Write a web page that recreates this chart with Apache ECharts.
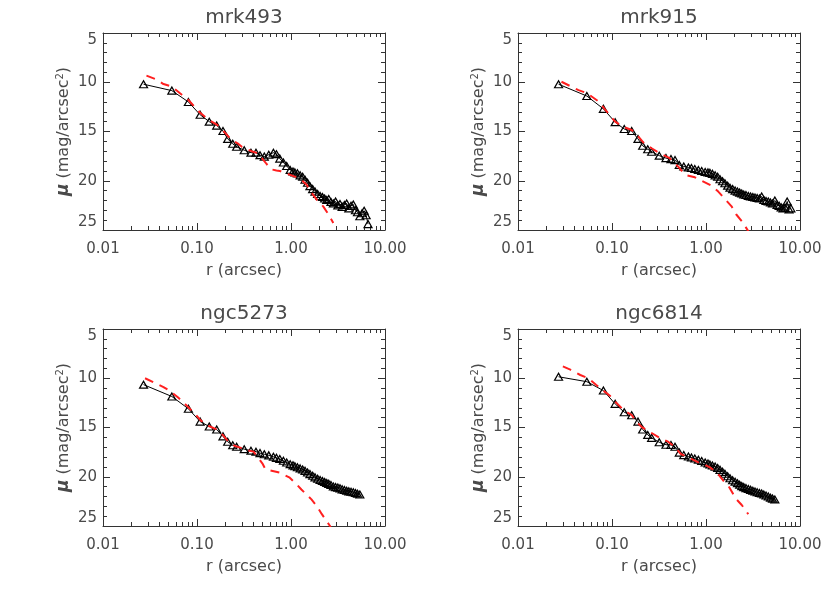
<!DOCTYPE html>
<html>
<head>
<meta charset="utf-8">
<title>Surface brightness profiles</title>
<script src="https://cdn.jsdelivr.net/npm/echarts@6/dist/echarts.min.js"></script>
<style>
    html, body { margin: 0; padding: 0; background: #fff; }
    #chart { width: 830px; height: 593px; }
</style>
</head>
<body>
<div id="chart"></div>
<script>
// radii of the isophotes (arcsec), shared by the four observed profiles
const radius = [0.027, 0.054, 0.081, 0.108, 0.135, 0.162, 0.189, 0.212, 0.240, 0.264,
    0.318, 0.375, 0.424, 0.468, 0.52, 0.58, 0.65, 0.70, 0.76, 0.83,
    0.90, 0.98, 1.05, 1.10, 1.17, 1.25, 1.33, 1.41, 1.50, 1.59,
    1.70, 1.80, 1.92, 2.04, 2.16, 2.28, 2.40, 2.52, 2.66, 2.82,
    2.98, 3.15, 3.32, 3.50, 3.70, 3.91, 4.12, 4.35, 4.60, 4.85,
    5.10, 5.40, 5.70, 6.00, 6.30, 6.60, 6.95, 7.30, 7.65, 8.00];

const galaxyNames = ['mrk493', 'mrk915', 'ngc5273', 'ngc6814'];

// observed surface brightness (mag/arcsec^2), one value per radius until the profile ends
const mrk493Mu = [10.2, 10.85, 12.0, 13.3, 14.0, 14.4, 14.95, 15.75, 16.25, 16.55,
    16.9, 17.15, 17.15, 17.4, 17.55, 17.35, 17.15, 17.3, 17.75, 18.15,
    18.5, 18.9, 19.05, 19.15, 19.25, 19.45, 19.6, 19.9, 20.2, 20.55,
    20.85, 21.1, 21.35, 21.55, 21.65, 21.8, 21.95, 21.85, 22.15, 22.3,
    22.1, 22.5, 22.35, 22.65, 22.45, 22.3, 22.8, 22.55, 22.4, 23.0,
    23.2, 23.6, 23.3, 23.05, 23.5, 24.4];
const mrk915Mu = [10.2, 11.4, 12.7, 14.05, 14.75, 14.95, 15.75, 16.45, 16.8, 17.05,
    17.45, 17.7, 17.8, 17.9, 18.4, 18.55, 18.65, 18.7, 18.8, 18.9,
    19.0, 19.1, 19.15, 19.2, 19.3, 19.45, 19.6, 19.85, 20.05, 20.25,
    20.5, 20.7, 20.85, 21.0, 21.1, 21.2, 21.3, 21.4, 21.45, 21.55,
    21.6, 21.65, 21.7, 21.75, 21.8, 21.6, 21.95, 22.05, 22.1, 22.2,
    22.3, 22.0, 22.45, 22.55, 22.7, 22.8, 22.75, 22.1, 22.9, 22.8];
const ngc5273Mu = [10.65, 11.85, 13.1, 14.4, 14.9, 15.2, 15.9, 16.45, 16.8, 16.95,
    17.2, 17.35, 17.45, 17.6, 17.72, 17.83, 17.97, 18.08, 18.2, 18.38,
    18.55, 18.72, 18.84, 18.93, 19.04, 19.15, 19.26, 19.4, 19.57, 19.73,
    19.9, 20.06, 20.2, 20.33, 20.42, 20.53, 20.64, 20.72, 20.84, 20.98,
    21.05, 21.1, 21.18, 21.28, 21.35, 21.42, 21.48, 21.52, 21.58, 21.65,
    21.72, 21.8];
const ngc6814Mu = [9.85, 10.35, 11.25, 12.6, 13.45, 13.75, 14.4, 15.2, 15.75, 16.05,
    16.5, 16.75, 16.78, 16.95, 17.55, 17.8, 17.95, 18.05, 18.15, 18.27,
    18.4, 18.55, 18.65, 18.75, 18.85, 18.97, 19.1, 19.3, 19.5, 19.7,
    19.95, 20.15, 20.35, 20.5, 20.65, 20.8, 20.95, 21.05, 21.15, 21.25,
    21.33, 21.42, 21.5, 21.58, 21.64, 21.7, 21.8, 21.9, 22.0, 22.12,
    22.22, 22.3];

// model profiles (red dashed)
const mrk493ModelR = [0.029, 0.036, 0.044, 0.054, 0.066, 0.081, 0.108, 0.135, 0.162, 0.19,
    0.215, 0.24, 0.27, 0.30, 0.338, 0.38, 0.41, 0.45, 0.50, 0.55,
    0.62, 0.70, 0.76, 0.85, 0.98, 1.15, 1.30, 1.47, 1.59, 1.87,
    2.2, 2.5, 2.82];
const mrk493ModelMu = [9.33, 9.67, 10.18, 10.45, 11.12, 11.8, 13.1, 13.85, 14.3, 14.9,
    15.5, 15.9, 16.2, 16.55, 16.8, 17.0, 17.1, 17.25, 17.8, 18.3,
    18.85, 18.95, 19.0, 19.2, 19.4, 19.65, 19.95, 20.4, 21.0, 21.9,
    22.6, 23.4, 24.3];
const mrk915ModelR = [0.029, 0.044, 0.054, 0.072, 0.085, 0.108, 0.13, 0.162, 0.19, 0.215,
    0.264, 0.32, 0.41, 0.51, 0.6, 0.76, 0.9, 1.15, 1.35, 1.59,
    1.87, 2.09, 2.45, 2.85];
const mrk915ModelMu = [9.95, 10.8, 11.1, 11.95, 12.8, 14.0, 14.5, 14.85, 15.5, 16.1,
    16.7, 17.2, 17.7, 18.6, 19.4, 19.65, 20.0, 20.5, 21.1, 21.85,
    22.6, 23.4, 24.2, 25.2];
const ngc5273ModelR = [0.028, 0.044, 0.051, 0.063, 0.078, 0.095, 0.11, 0.13, 0.162, 0.19,
    0.21, 0.25, 0.30, 0.34, 0.40, 0.50, 0.535, 0.77, 0.97, 1.14,
    1.29, 1.65, 1.87, 2.13, 2.6, 2.75];
const ngc5273ModelMu = [10.0, 10.9, 11.25, 11.95, 12.8, 13.6, 14.3, 14.8, 15.2, 15.8,
    16.3, 16.85, 17.1, 17.3, 17.45, 18.7, 19.25, 19.6, 20.1, 20.75,
    21.3, 22.3, 22.95, 23.8, 25.0, 25.5];
const ngc6814ModelR = [0.030, 0.036, 0.046, 0.056, 0.068, 0.081, 0.095, 0.108, 0.133, 0.162,
    0.184, 0.21, 0.264, 0.315, 0.395, 0.46, 0.54, 0.65, 0.83, 0.98,
    1.1, 1.3, 1.53, 1.73, 2.09, 2.4, 2.82];
const ngc6814ModelMu = [8.8, 9.13, 9.67, 10.0, 10.69, 11.26, 11.77, 12.38, 13.23, 13.73,
    14.48, 14.99, 15.56, 16.0, 16.44, 16.91, 17.69, 18.03, 18.54, 18.81,
    19.05, 19.55, 20.4, 20.9, 22.26, 22.87, 23.8];

// x tick labels, one per decade (0.01 .. 10)
const xTickLabels = ['0.01', '0.10', '1.00', '10.00'];

const observed = [mrk493Mu, mrk915Mu, ngc5273Mu, ngc6814Mu];
const modelR = [mrk493ModelR, mrk915ModelR, ngc5273ModelR, ngc6814ModelR];
const modelMu = [mrk493ModelMu, mrk915ModelMu, ngc5273ModelMu, ngc6814ModelMu];

// panel boxes: left, top (px)
const boxes = [[103, 33], [518, 33], [103, 329], [518, 329]];
const boxW = 282;
const boxH = 197;

const textColor = '#4a4a4a';
const frameColor = '#333';
const font = 'DejaVu Sans';

// x axis works in log10(r); minor ticks at 2..9 of every decade
const minorTicks = [];
[-2, -1, 0].forEach(d => {
    for (let k = 2; k <= 9; k++) minorTicks.push(d + Math.log10(k));
});

function toPoints(rs, mus) {
    return mus.map((m, i) => [Math.log10(rs[i]), m]);
}

const chart = echarts.init(document.getElementById('chart'));

const grids = [];
const xAxes = [];
const yAxes = [];
const titles = [];
const series = [];

boxes.forEach((b, i) => {
    grids.push({ left: b[0], top: b[1], width: boxW, height: boxH, containLabel: false, outerBoundsMode: 'none' });

    titles.push({
        text: galaxyNames[i],
        left: b[0] + boxW / 2,
        top: b[1] - 25,
        textAlign: 'center',
        padding: 0,
        textStyle: { fontFamily: font, fontSize: 20, fontWeight: 'normal', color: textColor }
    });

    const lineStyle = { color: frameColor, width: 1 };
    const xBase = {
        type: 'value', gridIndex: i, min: -2, max: 1, interval: 1,
        splitLine: { show: false },
        axisLine: { show: true, onZero: false, lineStyle: lineStyle }
    };
    xAxes.push(Object.assign({}, xBase, {
        position: 'bottom',
        axisTick: { show: true, inside: true, length: 7, lineStyle: lineStyle },
        axisLabel: {
            margin: 12, fontFamily: font, fontSize: 15, color: textColor,
            formatter: v => xTickLabels[Math.round(v) + 2]
        },
        name: 'r (arcsec)', nameLocation: 'middle', nameGap: 33,
        nameTextStyle: { fontFamily: font, fontSize: 16, color: textColor }
    }));
    xAxes.push(Object.assign({}, xBase, {
        position: 'bottom',
        axisLine: { show: false, onZero: false },
        axisLabel: { show: false },
        axisTick: { show: true, inside: true, length: 4, customValues: minorTicks, lineStyle: lineStyle }
    }));
    xAxes.push(Object.assign({}, xBase, {
        position: 'top',
        axisLabel: { show: false },
        axisTick: { show: true, inside: true, length: 7, lineStyle: lineStyle }
    }));
    xAxes.push(Object.assign({}, xBase, {
        position: 'top',
        axisLine: { show: false, onZero: false },
        axisLabel: { show: false },
        axisTick: { show: true, inside: true, length: 4, customValues: minorTicks, lineStyle: lineStyle }
    }));

    const yBase = {
        type: 'value', gridIndex: i, min: 5, max: 25, interval: 5, inverse: true,
        splitLine: { show: false },
        axisLine: { show: true, onZero: false, lineStyle: lineStyle },
        axisTick: { show: true, inside: true, length: 7, lineStyle: lineStyle },
        minorTick: { show: true, splitNumber: 5, length: 4, lineStyle: lineStyle }
    };
    yAxes.push(Object.assign({}, yBase, {
        position: 'left',
        axisLabel: {
            margin: 6, fontFamily: font, fontSize: 15, color: textColor,
            verticalAlignMinLabel: 'top', verticalAlignMaxLabel: 'bottom'
        },
        name: '{mu|μ} (mag/arcsec{sup|2})',
        nameLocation: 'middle', nameRotate: 90, nameGap: 30,
        nameTextStyle: {
            fontFamily: font, fontSize: 16, color: textColor,
            rich: {
                mu: { fontFamily: font, fontSize: 17, fontWeight: 'bold', fontStyle: 'italic', color: textColor },
                sup: { fontFamily: font, fontSize: 10, color: textColor, verticalAlign: 'top', padding: [0, 0, 8, 0] }
            }
        }
    }));
    yAxes.push(Object.assign({}, yBase, {
        position: 'right',
        axisLabel: { show: false }
    }));

    // observed profile: open triangles joined by a thin line
    series.push({
        type: 'line',
        xAxisIndex: i * 4,
        yAxisIndex: i * 2,
        data: toPoints(radius, observed[i]),
        symbol: 'triangle',
        symbolSize: [8, 7],
        showAllSymbol: true,
        lineStyle: { color: '#000', width: 1 },
        itemStyle: { color: 'rgba(0,0,0,0)', borderColor: '#000', borderWidth: 1.2 },
        z: 2
    });
    // model profile
    series.push({
        type: 'line',
        xAxisIndex: i * 4,
        yAxisIndex: i * 2,
        data: toPoints(modelR[i], modelMu[i]),
        symbol: 'none',
        lineStyle: { color: '#ff1f1f', width: 2, type: [9, 7] },
        z: 3
    });
});

chart.setOption({
    animation: false,
    backgroundColor: '#fff',
    title: titles,
    grid: grids,
    xAxis: xAxes,
    yAxis: yAxes,
    series: series
});
</script>
</body>
</html>
